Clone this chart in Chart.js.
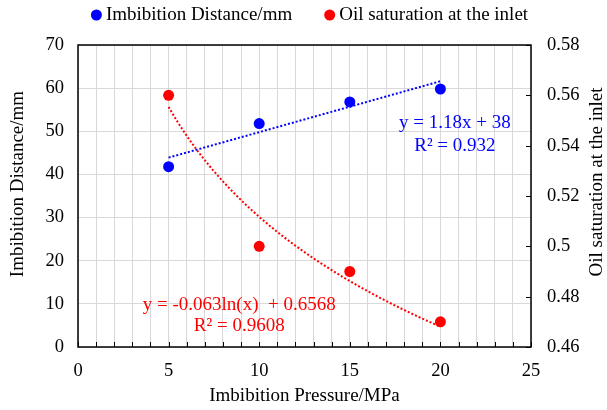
<!DOCTYPE html>
<html>
<head>
<meta charset="utf-8">
<script src="https://cdn.jsdelivr.net/npm/chart.js@4.4.0/dist/chart.umd.min.js"></script>
<style>
  html, body { margin: 0; padding: 0; background: #fff; }
  #wrap { width: 607px; height: 410px; }
</style>
</head>
<body>
<div id="wrap"><canvas id="chart"></canvas></div>
<script>
const pressure = [5, 10, 15, 20];
const distance = [41.8, 51.8, 56.8, 59.8];
const saturation = [0.56, 0.5, 0.49, 0.47];

// fitted trendlines as printed on the chart: [slope, intercept]
const distanceFit = [1.18, 38];
const saturationFit = [-0.063, 0.6568];

const distanceNote = ["y = 1.18x + 38", "R\u00b2 = 0.932"];
const saturationNote = ["y = -0.063ln(x)  + 0.6568", "R\u00b2 = 0.9608"];

const seriesNames = ["Imbibition Distance/mm", "Oil saturation at the inlet"];
const axisTitles = ["Imbibition Pressure/MPa", "Imbibition Distance/mm", "Oil saturation at the inlet"];

const BLUE = "#0000ff";
const RED = "#ff0000";
const GRID = "#d9d9d9";
const SERIF = "'Liberation Serif', 'Times New Roman', serif";
const TEXT_SIZE = 19;
const TICK_SIZE = 18.5;

function toPoints(xs, ys) {
  return xs.map((x, i) => ({ x, y: ys[i] }));
}

function tickText(value) {
  return String(Number(value.toFixed(2)));
}

const chartDecor = {
  id: "chartDecor",
  beforeDatasetsDraw(chart) {
    const { ctx, chartArea: area, scales } = chart;
    const { x, y, y1 } = scales;
    ctx.save();

    // inward tick marks on bottom and right axes
    ctx.strokeStyle = "#000";
    ctx.lineWidth = 1;
    ctx.beginPath();
    x.ticks.forEach((t) => {
      const px = Math.round(x.getPixelForValue(t.value)) + 0.5;
      ctx.moveTo(px, area.bottom);
      ctx.lineTo(px, area.bottom - 5);
    });
    y1.ticks.forEach((t) => {
      const py = Math.round(y1.getPixelForValue(t.value)) + 0.5;
      ctx.moveTo(area.right, py);
      ctx.lineTo(area.right - 5, py);
    });
    ctx.stroke();

    ctx.lineWidth = 1.5;
    ctx.strokeRect(area.left, area.top, area.width, area.height);

    // dotted trendlines
    const first = pressure[0];
    const last = pressure[pressure.length - 1];
    ctx.lineWidth = 2;
    ctx.setLineDash([2, 2]);

    ctx.strokeStyle = BLUE;
    ctx.beginPath();
    ctx.moveTo(x.getPixelForValue(first), y.getPixelForValue(distanceFit[0] * first + distanceFit[1]));
    ctx.lineTo(x.getPixelForValue(last), y.getPixelForValue(distanceFit[0] * last + distanceFit[1]));
    ctx.stroke();

    ctx.strokeStyle = RED;
    ctx.beginPath();
    for (let v = first; v <= last + 1e-9; v += 0.25) {
      const px = x.getPixelForValue(v);
      const py = y1.getPixelForValue(saturationFit[0] * Math.log(v) + saturationFit[1]);
      if (v === first) ctx.moveTo(px, py);
      else ctx.lineTo(px, py);
    }
    ctx.stroke();
    ctx.restore();
  },
  afterDraw(chart) {
    const { ctx, chartArea: area, scales } = chart;
    const { x, y } = scales;
    ctx.save();
    ctx.font = `${TEXT_SIZE}px ${SERIF}`;
    ctx.textBaseline = "middle";

    // equations
    ctx.textAlign = "center";
    ctx.fillStyle = BLUE;
    ctx.fillText(distanceNote[0], x.getPixelForValue(20.8), y.getPixelForValue(51.9));
    ctx.fillText(distanceNote[1], x.getPixelForValue(20.8), y.getPixelForValue(46.6));
    ctx.fillStyle = RED;
    ctx.fillText(saturationNote[0], x.getPixelForValue(8.9), y.getPixelForValue(9.7));
    ctx.fillText(saturationNote[1], x.getPixelForValue(8.9), y.getPixelForValue(4.9));

    // axis titles
    ctx.fillStyle = "#000";
    const midX = (area.left + area.right) / 2;
    const midY = (area.top + area.bottom) / 2;
    ctx.fillText(axisTitles[0], midX, area.bottom + 49);
    ctx.save();
    ctx.translate(18, midY - 12);
    ctx.rotate(-Math.PI / 2);
    ctx.fillText(axisTitles[1], 0, 0);
    ctx.restore();
    ctx.save();
    ctx.translate(597, midY - 14);
    ctx.rotate(-Math.PI / 2);
    ctx.fillText(axisTitles[2], 0, 0);
    ctx.restore();

    // legend
    ctx.textAlign = "left";
    const dot = 5.5;
    const gap = 4;
    const spacing = 32;
    const widths = seriesNames.map((n) => ctx.measureText(n).width);
    const total = widths.reduce((s, w) => s + dot * 2 + gap + w, 0) + spacing;
    let cx = midX + 5 - total / 2;
    chart.data.datasets.forEach((ds, i) => {
      ctx.fillStyle = ds.backgroundColor;
      ctx.beginPath();
      ctx.arc(cx + dot, 15, dot, 0, Math.PI * 2);
      ctx.fill();
      ctx.fillStyle = "#000";
      ctx.fillText(seriesNames[i], cx + dot * 2 + gap, 15);
      cx += dot * 2 + gap + widths[i] + spacing;
    });
    ctx.restore();
  },
};

const tickFont = { family: SERIF, size: TICK_SIZE };

new Chart(document.getElementById("chart"), {
  type: "scatter",
  data: {
    datasets: [
      {
        label: seriesNames[0],
        data: toPoints(pressure, distance),
        yAxisID: "y",
        backgroundColor: BLUE,
        borderWidth: 0,
        pointRadius: 5.5,
      },
      {
        label: seriesNames[1],
        data: toPoints(pressure, saturation),
        yAxisID: "y1",
        backgroundColor: RED,
        borderWidth: 0,
        pointRadius: 5.5,
      },
    ],
  },
  options: {
    responsive: true,
    maintainAspectRatio: false,
    animation: false,
    layout: { padding: { top: 45, left: 0, right: 0, bottom: 0 } },
    plugins: {
      legend: { display: false },
      tooltip: { enabled: false },
    },
    scales: {
      x: {
        type: "linear",
        min: 0,
        max: 25,
        grid: { color: GRID, drawTicks: false },
        border: { display: false },
        ticks: {
          stepSize: 1,
          autoSkip: false,
          maxRotation: 0,
          padding: 13,
          color: "#000",
          font: tickFont,
          callback: (v) => (v % 5 === 0 ? v : ""),
        },
        afterFit(scale) {
          scale.height = 63;
        },
      },
      y: {
        position: "left",
        min: 0,
        max: 70,
        grid: { color: GRID, drawTicks: false },
        border: { display: false },
        ticks: { stepSize: 10, padding: 14, color: "#000", font: tickFont },
        afterFit(scale) {
          scale.width = 78;
        },
      },
      y1: {
        position: "right",
        min: 0.46,
        max: 0.58,
        grid: { drawOnChartArea: false, drawTicks: false },
        border: { display: false },
        ticks: { stepSize: 0.02, padding: 16, color: "#000", font: tickFont, callback: tickText },
        afterFit(scale) {
          scale.width = 76;
        },
      },
    },
  },
  plugins: [chartDecor],
});
</script>
</body>
</html>
